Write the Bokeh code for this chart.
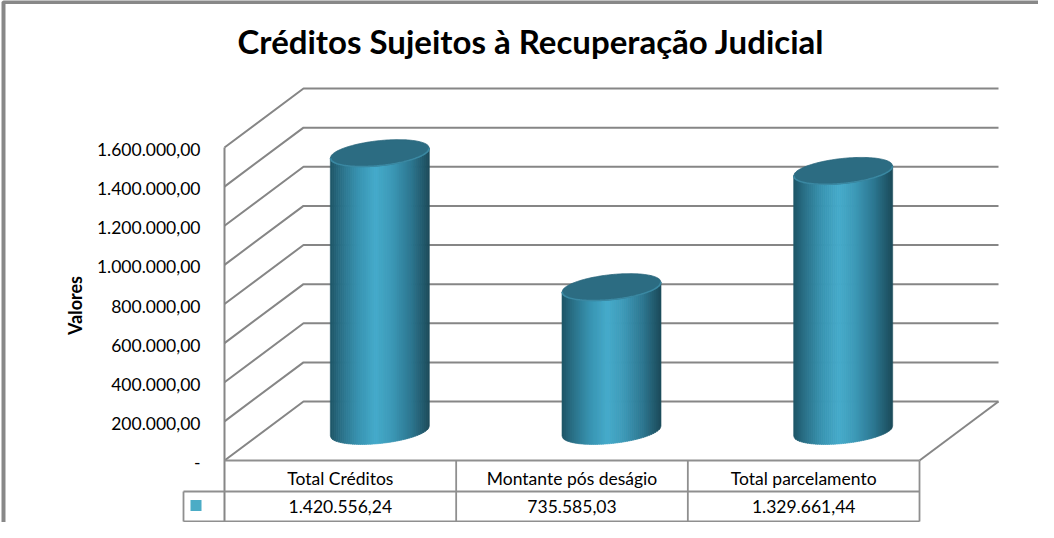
import numpy as np
from bokeh.plotting import figure
from bokeh.models import Range1d
from bokeh.embed import file_html
from bokeh.resources import INLINE
from bokeh.core.properties import value

# ---------------- data ----------------
title_text = "Créditos Sujeitos à Recuperação Judicial"
y_axis_label = "Valores"
categories = ["Total Créditos", "Montante pós deságio", "Total parcelamento"]
values = [1420556.24, 735585.03, 1329661.44]
tick_values = [0, 200000, 400000, 600000, 800000, 1000000, 1200000, 1400000, 1600000]


def fmt(v):
    if v == 0:
        return "-"
    s = f"{v:,.2f}"
    return s.replace(",", "X").replace(".", ",").replace("X", ".")


tick_labels = [fmt(v) for v in tick_values]
value_labels = [fmt(v) for v in values]

# ---------------- layout ----------------
W, H = 1038, 522
OFF = 8           # page margin
SHIFT = 3         # move everything up a little so it fits
CW = 231.67       # px per category column
PPV = 313 / 1.6e6  # px per value unit
X0 = 232 - OFF
Y0 = 471 - OFF - SHIFT

x_range = Range1d(-X0 / CW, (W - X0) / CW)
y_range = Range1d(-(H - Y0) / PPV, Y0 / PPV)


def dx(px):
    return np.asarray(px) / CW


def dy(px):
    return np.asarray(px) / PPV


def sx(xs):
    return (xs - 232) / CW


def sy(ys):
    return (471 - ys) / PPV


FONT = "Lato"
GRID = "#868686"
DX = float(dx(79))
DY = float(dy(59))
NCAT = len(categories)

p = figure(width=W, height=H, x_range=x_range, y_range=y_range,
           output_backend="svg", toolbar_location=None, min_border=0,
           x_axis_location=None, y_axis_location=None)
p.grid.visible = False
p.outline_line_color = None
p.background_fill_color = "white"
p.border_fill_color = "white"

# chart frame (grey border)
p.line(x=[sx(11), sx(11), x_range.end + 1], y=[y_range.start - 1e6, sy(12.5), sy(12.5)],
       line_color="#888888", line_width=4)

# walls: gridlines at every tick
gx = [[0, DX, NCAT + DX] for _ in tick_values]
gy = [[v, v + DY, v + DY] for v in tick_values]
p.multi_line(xs=gx, ys=gy, line_color=GRID, line_width=2)
# left vertical edge + floor right edge
p.line(x=[0, 0], y=[tick_values[-1], sy(532)], line_color=GRID, line_width=2)
p.line(x=[NCAT, NCAT + DX], y=[0, DY], line_color=GRID, line_width=2)

# data table
TBL = "#8f8f8f"
row_mid = sy(502)
row_bot = sy(532)
key_left = sx(191)
p.multi_line(
    xs=[[0, NCAT], [key_left, NCAT], [key_left, NCAT], [key_left, key_left]] +
       [[i, i] for i in range(1, NCAT + 1)],
    ys=[[0, 0], [row_mid, row_mid], [row_bot, row_bot], [row_mid, row_bot]] +
       [[0, row_bot] for _ in range(1, NCAT + 1)],
    line_color=TBL, line_width=1.8)

# ---------------- cylinders ----------------
stops_pos = [0.0, 0.1, 0.28, 0.46, 0.62, 0.82, 1.0]
stops_col = ["#1d5466", "#296e85", "#3893b0", "#46abcb", "#3d9ab8", "#2c7690", "#1c4b5a"]
stops_rgb = np.array([[int(c[i:i + 2], 16) for i in (1, 3, 5)] for c in stops_col], float)


def grad(t):
    rgb = [np.interp(t, stops_pos, stops_rgb[:, j]) for j in range(3)]
    return "#%02x%02x%02x" % tuple(int(round(c)) for c in rgb)


A, B, SL = 49.5, 12.5, 0.1
N = 50
bx, by, bc = [], [], []
tx, ty = [], []
rx, ry = [], []
for i, v in enumerate(values):
    cx = i + 0.5 + DX / 2
    base = DY / 2
    top = v + DY / 2
    for k in range(N):
        t0 = -A + 2 * A * k / N
        t1 = t0 + 2 * A / N + 0.4
        t1 = min(t1, A)
        d = np.linspace(t0, t1, 4)
        bot = base + dy(SL * d - B * np.sqrt(np.clip(1 - (d / A) ** 2, 0, 1)))
        tp = top + dy(SL * d)
        bx.append(list(cx + dx(d)) + list(cx + dx(d[::-1])))
        by.append(list(bot) + list(tp[::-1]))
        bc.append(grad((k + 0.5) / N))
    d = np.linspace(-A, A, 90)
    r = B * np.sqrt(np.clip(1 - (d / A) ** 2, 0, 1))
    up = top + dy(SL * d + r)
    lo = top + dy(SL * d - r)
    tx.append(list(cx + dx(d)) + list(cx + dx(d[::-1])))
    ty.append(list(up) + list(lo[::-1]))
    rx.append(list(cx + dx(d)))
    ry.append(list(lo))

p.patches(xs=bx, ys=by, fill_color=bc, line_color=bc, line_width=0.6)
p.patches(xs=tx, ys=ty, fill_color="#2c6c82", line_color="#2a667b", line_width=0.8)
p.multi_line(xs=rx, ys=ry, line_color="#3a88a2", line_width=1.6)

# ---------------- texts ----------------
p.text(x=[sx(538.5)], y=[sy(51)], text=[title_text], text_font=value(FONT),
       text_font_style="bold", text_font_size="33px", text_align="center",
       text_baseline="middle", text_color="black")
p.text(x=[sx(82.5)], y=[sy(316)], text=[y_axis_label], angle=np.pi / 2,
       text_font=value(FONT), text_font_style="bold", text_font_size="18px",
       text_align="center", text_baseline="middle", text_color="black")
p.text(x=[sx(208)] * len(tick_values), y=tick_values, text=tick_labels,
       text_font=value(FONT), text_font_size="17.5px", text_align="right",
       text_baseline="middle", y_offset=2, text_color="black")
p.text(x=[i + 0.5 for i in range(NCAT)], y=[sy(489)] * NCAT, text=categories,
       text_font=value(FONT), text_font_size="17.5px", text_align="center",
       text_baseline="middle", text_color="black")
p.text(x=[i + 0.5 for i in range(NCAT)], y=[sy(517)] * NCAT, text=value_labels,
       text_font=value(FONT), text_font_size="17.5px", text_align="center",
       text_baseline="middle", text_color="black")
p.scatter(x=[sx(203.5)], y=[sy(516)], marker="square", size=11,
          fill_color="#4bacc6", line_color=None)

open("out.html", "w").write(file_html(p, INLINE))
